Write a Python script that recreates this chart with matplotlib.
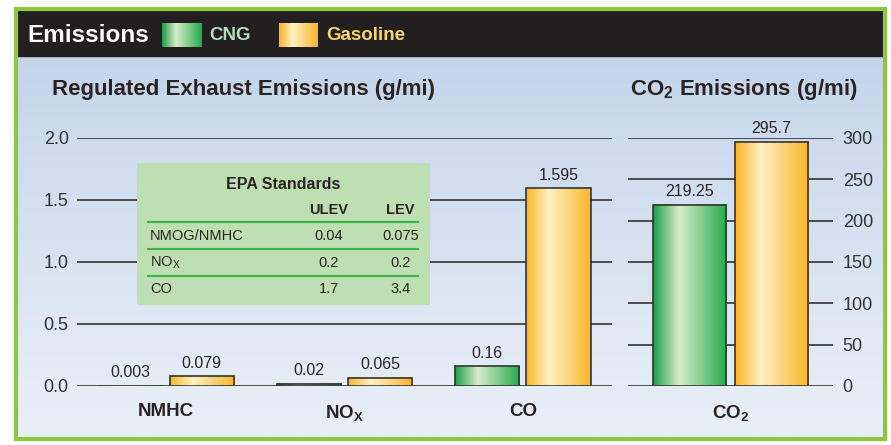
import numpy as np
import matplotlib
matplotlib.use("Agg")
import matplotlib.pyplot as plt
from matplotlib.patches import Rectangle
from matplotlib.colors import LinearSegmentedColormap

# ---- data ----
categories = ["NMHC", "NO$_\\mathregular{X}$", "CO"]
cng_values = [0.003, 0.02, 0.16]
gas_values = [0.079, 0.065, 1.595]
cng_labels = ["0.003", "0.02", "0.16"]
gas_labels = ["0.079", "0.065", "1.595"]

co2_category = ["CO$_\\mathregular{2}$"]
co2_cng = [219.25]
co2_gas = [295.7]
co2_cng_labels = ["219.25"]
co2_gas_labels = ["295.7"]

left_ticks = [0.0, 0.5, 1.0, 1.5, 2.0]
right_ticks = [0, 50, 100, 150, 200, 250, 300]

table_cols = ["ULEV", "LEV"]
table_rows = ["NMOG/NMHC", "NO$_\\mathregular{X}$", "CO"]
table_ulev = ["0.04", "0.2", "1.7"]
table_lev = ["0.075", "0.2", "3.4"]

# ---- style ----
FAM = ["Liberation Sans", "DejaVu Sans"]
plt.rcParams["font.family"] = FAM
plt.rcParams["mathtext.default"] = "regular"
TXT = "#2b2323"

green_cmap = LinearSegmentedColormap.from_list(
    "g", [(0, "#1e9d45"), (0.35, "#d8edc9"), (1, "#24aa4c")])
gold_cmap = LinearSegmentedColormap.from_list(
    "y", [(0, "#fbb424"), (0.35, "#fff1c4"), (1, "#fbb628")])
grad = np.linspace(0, 1, 256).reshape(1, -1)

W, H = 891, 445
fig = plt.figure(figsize=(W / 100, H / 100), dpi=100)

# ---- background / frame ----
bg = fig.add_axes([0, 0, 1, 1])
bg.axis("off")
bg.add_patch(Rectangle((0, 0), W, H, color="white", zorder=0))
vgrad = np.linspace(0, 1, 256).reshape(-1, 1)
bg_cmap = LinearSegmentedColormap.from_list("bg", ["#c4d5ea", "#eaf0f8"])
bg.imshow(vgrad, cmap=bg_cmap, extent=[17, 884, 437, 56], aspect="auto", zorder=1)
bg.add_patch(Rectangle((17, 10), 867, 46, color="#231f20", zorder=2))
bg.add_patch(Rectangle((15.5, 8.5), 869, 430, fill=False, edgecolor="#8dc63f", lw=3, zorder=3))

bg.text(27, 35, "Emissions", color="white", fontsize=17.5, fontweight="bold", va="center", zorder=4)
bg.imshow(grad, cmap=green_cmap, extent=[162, 202, 47, 23], aspect="auto", zorder=4)
bg.text(209, 36, "CNG", color="#b3dfba", fontsize=13.5, fontweight="bold", va="center", zorder=4)
bg.imshow(grad, cmap=gold_cmap, extent=[279, 318, 47, 23], aspect="auto", zorder=4)
bg.text(326, 36, "Gasoline", color="#f9d36a", fontsize=13.5, fontweight="bold", va="center", zorder=4)

bg.text(52, 90, "Regulated Exhaust Emissions (g/mi)", color=TXT, fontsize=16,
        fontweight="bold", va="center", zorder=4)
bg.text(744, 90, "CO$_\\mathregular{2}$ Emissions (g/mi)", color=TXT, fontsize=16,
        fontweight="bold", va="center", ha="center", zorder=4)
bg.set_xlim(0, W)
bg.set_ylim(H, 0)


def gradient_bars(ax, bars, cmap):
    for b in bars:
        x, y = b.get_x(), b.get_y()
        ax.imshow(grad, cmap=cmap, extent=[x, x + b.get_width(), y, y + b.get_height()],
                  aspect="auto", zorder=2)


def style_axis(ax):
    ax.set_facecolor("none")
    for s in ax.spines.values():
        s.set_visible(False)
    ax.grid(axis="y", color="#333333", lw=1.2, zorder=1)
    ax.set_axisbelow(True)


# ---- left chart ----
ax = fig.add_axes([77 / W, (H - 386) / H, 535 / W, 248 / H])
style_axis(ax)
x = np.arange(len(categories))
off, bw = 0.2, 0.36
b1 = ax.bar(x - off, cng_values, bw, facecolor="none", edgecolor="#333333", lw=1.2, zorder=3)
b2 = ax.bar(x + off, gas_values, bw, facecolor="none", edgecolor="#333333", lw=1.2, zorder=3)
gradient_bars(ax, b1, green_cmap)
gradient_bars(ax, b2, gold_cmap)
for bars, labs in [(b1, cng_labels), (b2, gas_labels)]:
    for b, lab in zip(bars, labs):
        ax.annotate(lab, (b.get_x() + b.get_width() / 2, b.get_height()),
                    xytext=(0, 4), textcoords="offset points", ha="center", va="bottom",
                    fontsize=11.5, color=TXT)
ax.set_xlim(-0.5, 2.5)
ax.set_ylim(0, 2.0)
ax.set_yticks(left_ticks)
ax.set_yticklabels([f"{t:.1f}" for t in left_ticks])
ax.set_xticks(x)
ax.set_xticklabels(categories, fontweight="bold", fontsize=13.5, color=TXT)
ax.tick_params(axis="y", length=0, pad=6, labelsize=13, labelcolor="#333333")
ax.tick_params(axis="x", length=0, pad=12)

# ---- EPA table ----
tb = fig.add_axes([137 / W, (H - 305) / H, 293 / W, 142 / H])
tb.set_facecolor("#bddfb1")
for s in tb.spines.values():
    s.set_visible(False)
tb.set_xticks([])
tb.set_yticks([])
tb.set_xlim(0, 1)
tb.set_ylim(0, 1)
tb.text(0.5, 0.85, "EPA Standards", ha="center", va="center", fontsize=11.5,
        fontweight="bold", color=TXT)
col_x = [0.654, 0.90]
for cx, c in zip(col_x, table_cols):
    tb.text(cx, 0.67, c, ha="center", va="center", fontsize=10.5, fontweight="bold", color=TXT)
for ly in [0.585, 0.394, 0.204]:
    tb.plot([0.0375, 0.959], [ly, ly], color="#3db54a", lw=1.5)
row_y = [0.486, 0.296, 0.113]
for ry, r, u, l in zip(row_y, table_rows, table_ulev, table_lev):
    tb.text(0.044, ry, r, ha="left", va="center", fontsize=10.5, color=TXT)
    tb.text(col_x[0], ry, u, ha="center", va="center", fontsize=10.5, color=TXT)
    tb.text(col_x[1], ry, l, ha="center", va="center", fontsize=10.5, color=TXT)

# ---- right chart ----
ax2 = fig.add_axes([628 / W, (H - 386) / H, 205 / W, 248 / H])
style_axis(ax2)
off2, bw2 = 0.4, 0.72
c1 = ax2.bar([-off2], co2_cng, bw2, facecolor="none", edgecolor="#333333", lw=1.2, zorder=3)
c2 = ax2.bar([off2], co2_gas, bw2, facecolor="none", edgecolor="#333333", lw=1.2, zorder=3)
gradient_bars(ax2, c1, green_cmap)
gradient_bars(ax2, c2, gold_cmap)
for bars, labs in [(c1, co2_cng_labels), (c2, co2_gas_labels)]:
    for b, lab in zip(bars, labs):
        ax2.annotate(lab, (b.get_x() + b.get_width() / 2, b.get_height()),
                     xytext=(0, 4), textcoords="offset points", ha="center", va="bottom",
                     fontsize=11.5, color=TXT)
ax2.set_xlim(-1, 1)
ax2.set_ylim(0, 300)
ax2.set_yticks(right_ticks)
ax2.yaxis.tick_right()
ax2.set_xticks([0])
ax2.set_xticklabels(co2_category, fontweight="bold", fontsize=13.5, color=TXT)
ax2.tick_params(axis="y", length=0, pad=7, labelsize=13, labelcolor="#333333")
ax2.tick_params(axis="x", length=0, pad=12)

fig.savefig("out.png", dpi=100)
